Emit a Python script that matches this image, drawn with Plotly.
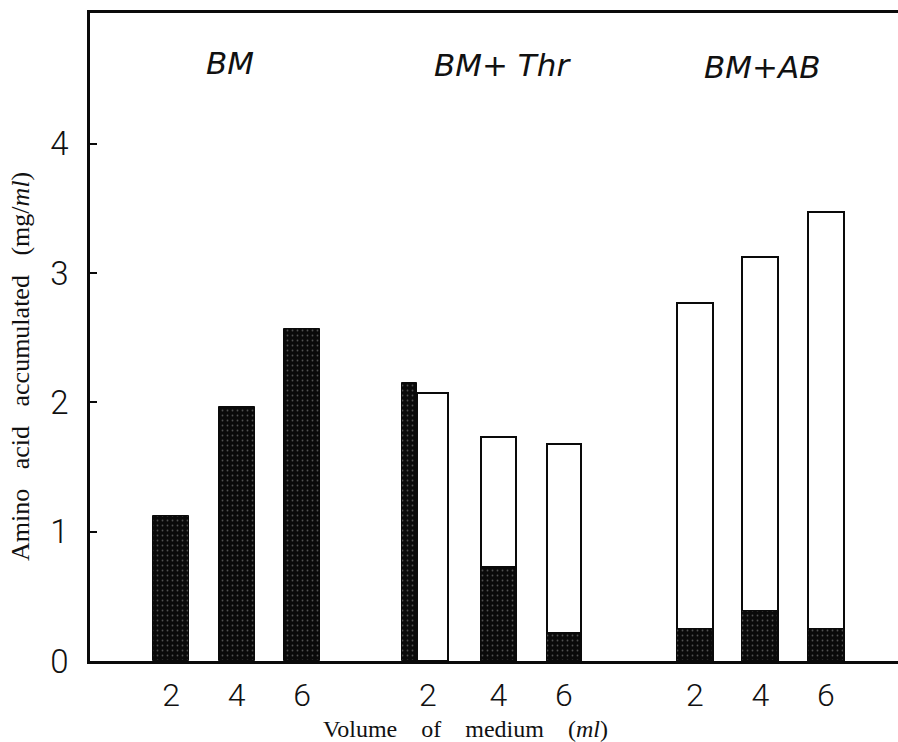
import plotly.graph_objects as go

# ---- data ----
groups = ["BM", "BM+Thr", "BM+AB"]
volumes = ["2", "4", "6"]
# dark (stippled) portion of each bar, mg/ml
dark_BM = [1.12, 1.96, 2.57]
dark_Thr = [2.15, 0.73, 0.22]
dark_AB = [0.25, 0.39, 0.25]
# total height of open (white) bars, mg/ml (BM has none)
total_Thr = [2.07, 1.73, 1.68]
total_AB = [2.77, 3.12, 3.47]
y_ticks = [0, 1, 2, 3, 4]

# ---- layout helpers (positions, not data) ----
def slot(g, v):
    return g * 4 + v

W = 0.55
INK = "#0a0a0a"
pattern = dict(shape=".", fgcolor="#9a9a9a", bgcolor=INK, size=5, solidity=0.1)

fig = go.Figure()

# white (total) bars
wx, wy, ww = [], [], []
for gi, tot in ((1, total_Thr), (2, total_AB)):
    for vi, t in enumerate(tot):
        x = slot(gi, vi)
        w = W
        if gi == 1 and vi == 0:
            x = slot(gi, vi) - 0.01
            w = 0.47
        if gi == 1 and vi in (1, 2):
            w = 0.52
        wx.append(x); wy.append(t); ww.append(w)
fig.add_trace(go.Bar(x=wx, y=wy, width=ww, marker=dict(color="white",
              line=dict(color=INK, width=2)), showlegend=False, hoverinfo="skip"))

# dark bars
dx, dy, dw = [], [], []
for gi, dk in ((0, dark_BM), (1, dark_Thr), (2, dark_AB)):
    for vi, d in enumerate(dk):
        x = slot(gi, vi)
        w = W
        if gi == 1 and vi == 0:
            x = slot(gi, vi) - 0.36
            w = 0.23
        if gi == 1 and vi in (1, 2):
            w = 0.52
        dx.append(x); dy.append(d); dw.append(w)
fig.add_trace(go.Bar(x=dx, y=dy, width=dw, marker=dict(color=INK, pattern=pattern,
              line=dict(color=INK, width=1)), showlegend=False, hoverinfo="skip"))

# x tick positions
tickvals, ticktext = [], []
for gi in range(3):
    for vi, v in enumerate(volumes):
        p = slot(gi, vi)
        if gi == 1 and vi == 0:
            p = slot(gi, vi) - 0.08
        tickvals.append(p); ticktext.append(v)

num_font = dict(family="Roboto, DejaVu Sans, sans-serif", size=33, color="#111", weight=300)
xnum_font = dict(family="Roboto, DejaVu Sans, sans-serif", size=32, color="#111", weight=300)
serif = "Liberation Serif, DejaVu Serif, serif"

fig.update_layout(
    width=898, height=742,
    margin=dict(l=90, r=0, t=13, b=81),
    paper_bgcolor="white", plot_bgcolor="white",
    barmode="overlay", bargap=0,
    xaxis=dict(range=[-1.237, 11.1], tickvals=tickvals, ticktext=ticktext,
               tickfont=xnum_font, ticks="", showgrid=False, zeroline=False,
               showline=True, linecolor=INK, linewidth=2.5, mirror=True,
               ticklabelstandoff=4),
    yaxis=dict(range=[0, 5.01], tickvals=y_ticks, ticktext=[str(t) for t in y_ticks],
               tickfont=num_font, ticks="inside", ticklen=7, tickwidth=2, tickcolor=INK,
               showgrid=False, zeroline=False, showline=True, linecolor=INK, linewidth=2.5,
               ticklabelstandoff=12),
)

# axis titles as paper annotations for exact placement
fig.add_annotation(xref="paper", yref="paper", x=(465 - 90) / 808, y=-(729 - 661) / 648,
                   text="Volume    of    medium    (<i>ml</i>)", showarrow=False,
                   font=dict(family=serif, size=24, color="#111"), xanchor="center", yanchor="middle")
fig.add_annotation(xref="paper", yref="paper", x=-(90 - 20) / 808, y=(661 - 367) / 648,
                   text="Amino   acid   accumulated   (mg/<i>ml</i>)", showarrow=False, textangle=-90,
                   font=dict(family=serif, size=26, color="#111"), xanchor="center", yanchor="middle")

label_font = dict(family="DejaVu Sans, sans-serif", size=31, color="#111", weight=300)
for txt, xp, yp in (("<i>BM</i>", 230, 63), ("<i>BM+ Thr</i>", 503, 65), ("<i>BM+AB</i>", 762, 67)):
    fig.add_annotation(x=(xp - 171) / 65.5, y=5.01 - (yp - 13) / 129.4, xref="x", yref="y",
                       text=txt, showarrow=False, font=label_font)

fig.write_html("out.html")
